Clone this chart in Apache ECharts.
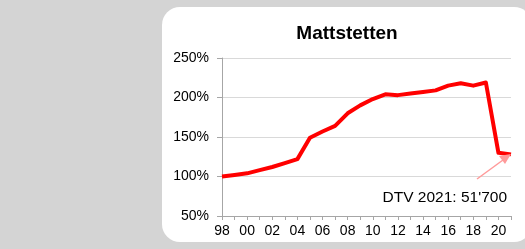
<!DOCTYPE html>
<html>
<head>
<meta charset="utf-8">
<script src="https://cdn.jsdelivr.net/npm/echarts@6/dist/echarts.min.js"></script>
<style>
  html, body { margin: 0; padding: 0; background: #d4d4d4; }
  #chart { width: 525px; height: 249px; }
</style>
</head>
<body>
<div id="chart"></div>
<script>
// years shown on the x axis (1998 - 2021), labels every second year
const years = ['98', '99', '00', '01', '02', '03', '04', '05', '06', '07', '08', '09',
  '10', '11', '12', '13', '14', '15', '16', '17', '18', '19', '20', '21'];

// traffic index, 1998 = 100%
const trafficIndex = [100, 102, 104, 108, 112, 117, 122, 149, 157, 164, 180, 190,
  198, 204, 203, 205, 207, 209, 215, 218, 215, 219, 130, 128];

const yTicks = [50, 100, 150, 200, 250];

const chartTitle = 'Mattstetten';
const noteText = "DTV 2021: 51'700";

const font = "'Liberation Sans', Arial, sans-serif";

const chart = echarts.init(document.getElementById('chart'));

chart.setOption({
  backgroundColor: '#d4d4d4',
  animation: false,
  textStyle: {fontFamily: font},
  graphic: [
    { // white card behind the chart, runs off the right edge
      type: 'rect',
      z: -10,
      shape: {x: 162, y: 7, width: 370, height: 235, r: 18},
      style: {fill: '#ffffff'},
    },
    {
      type: 'text',
      x: 347,
      y: 34,
      style: {
        text: chartTitle,
        fill: '#000',
        font: 'bold 19px ' + font,
        align: 'center',
        verticalAlign: 'middle',
      },
    },
    {
      type: 'text',
      x: 507,
      y: 198,
      z: 5,
      style: {
        text: noteText,
        fill: '#000',
        font: '15.5px ' + font,
        align: 'right',
        verticalAlign: 'middle',
      },
    },
    { // arrow pointing at the 2021 value
      type: 'line',
      z: 5,
      shape: {x1: 477, y1: 179, x2: 503, y2: 160},
      style: {stroke: '#ff9a9a', lineWidth: 1.5},
    },
    {
      type: 'polygon',
      z: 5,
      shape: {points: [[511, 154], [499, 156], [505, 164]]},
      style: {fill: '#ff9a9a'},
    },
  ],
  grid: {left: 222, right: 14, top: 58, bottom: 33},
  xAxis: {
    type: 'category',
    data: years,
    boundaryGap: false,
    axisLine: {lineStyle: {color: '#a6a6a6', width: 1}},
    axisTick: {show: true, length: 4, interval: 0, lineStyle: {color: '#a6a6a6'}},
    axisLabel: {
      interval: 1,
      color: '#000',
      fontSize: 14,
      margin: 8,
      fontFamily: font,
    },
    splitLine: {show: false},
  },
  yAxis: {
    type: 'value',
    min: yTicks[0],
    max: yTicks[yTicks.length - 1],
    interval: 50,
    axisLine: {show: true, lineStyle: {color: '#a6a6a6', width: 1}},
    axisTick: {show: true, length: 5, lineStyle: {color: '#a6a6a6'}},
    axisLabel: {
      formatter: '{value}%',
      color: '#000',
      fontSize: 14,
      margin: 13,
      fontFamily: font,
    },
    splitLine: {lineStyle: {color: '#d9d9d9', width: 1}},
  },
  series: [{
    type: 'line',
    data: trafficIndex,
    symbol: 'none',
    lineStyle: {color: '#ff0000', width: 4, join: 'round'},
    z: 3,
  }],
});
</script>
</body>
</html>
